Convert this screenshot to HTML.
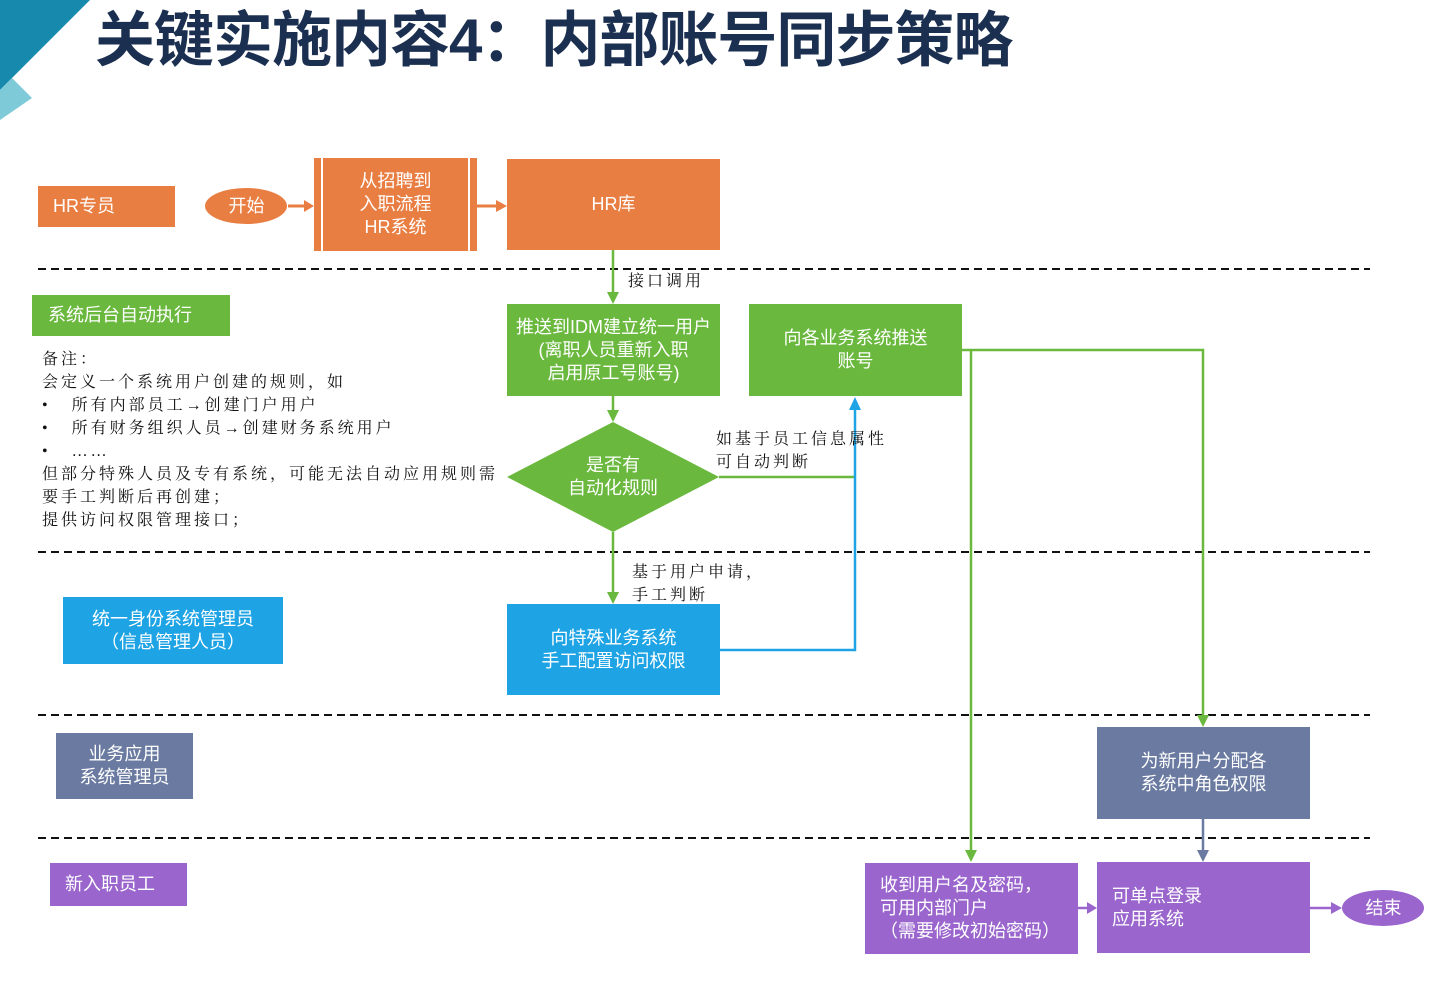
<!DOCTYPE html><html><head><meta charset="utf-8"><style>
body{margin:0;width:1440px;height:981px;background:#fff;position:relative;overflow:hidden;font-family:"Liberation Sans","Noto Sans CJK SC",sans-serif}
.b{position:absolute;color:#fff;display:flex;align-items:center;justify-content:center;text-align:center;font-size:18px;line-height:23px;box-sizing:border-box}
.o{background:#e97e42}.g{background:#6ab93e}.bl{background:#1ea3e4}.gr{background:#6a7aa0}.p{background:#9a65cd}
.t{position:absolute;font-family:"Liberation Serif","Noto Serif CJK SC",serif;font-size:16px;color:#111;line-height:23px;white-space:nowrap;letter-spacing:3px}
</style></head><body>
<svg width="1440" height="981" style="position:absolute;left:0;top:0">
<polygon points="0,0 90,0 0,90" fill="#1789ad"/>
<polygon points="0,90 12,78 32,98 0,120" fill="#7ecad8"/>
<g stroke="#111" stroke-width="2" stroke-dasharray="8,5">
<line x1="38" y1="269" x2="1370" y2="269"/><line x1="38" y1="552" x2="1370" y2="552"/>
<line x1="38" y1="715" x2="1370" y2="715"/><line x1="38" y1="838" x2="1370" y2="838"/></g>
<g stroke="#6ab93e" stroke-width="2.5" fill="none">
<line x1="613" y1="250" x2="613" y2="294"/><line x1="613" y1="396" x2="613" y2="412"/>
<line x1="613" y1="532" x2="613" y2="594"/><polyline points="719,477 855,477"/>
<polyline points="962,350 1203,350 1203,717"/><polyline points="971,350 971,852"/></g>
<g fill="#6ab93e"><polygon points="607,292 619,292 613,304"/><polygon points="607,410 619,410 613,422"/><polygon points="607,592 619,592 613,604"/><polygon points="1197,715 1209,715 1203,727"/><polygon points="965,850 977,850 971,862"/></g>
<polyline points="720,650 855,650 855,408" stroke="#1ea3e4" stroke-width="2.5" fill="none"/>
<polygon points="849,410 861,410 855,397" fill="#1ea3e4"/>
<polygon points="507,477 613,422 719,477 613,532" fill="#6ab93e"/>
<ellipse cx="246" cy="206" rx="41" ry="18" fill="#e97e42"/>
<ellipse cx="1383" cy="908" rx="41" ry="18" fill="#9a65cd"/>
<g stroke="#e97e42" stroke-width="3"><line x1="288" y1="206" x2="306" y2="206"/><line x1="477" y1="206" x2="498" y2="206"/></g>
<g fill="#e97e42"><polygon points="304,200 314,206 304,212"/><polygon points="496,200 507,206 496,212"/></g>
<line x1="1203" y1="819" x2="1203" y2="852" stroke="#6a7aa0" stroke-width="2.5"/><polygon points="1197,850 1209,850 1203,862" fill="#6a7aa0"/>
<g stroke="#9a65cd" stroke-width="2.5"><line x1="1078" y1="908" x2="1089" y2="908"/><line x1="1310" y1="908" x2="1333" y2="908"/></g>
<g fill="#9a65cd"><polygon points="1087,902 1097,908 1087,914"/><polygon points="1331,902 1342,908 1331,914"/></g>
</svg>
<div style="position:absolute;left:95px;top:4px;font-size:60px;font-weight:bold;color:#1b2f50;letter-spacing:-1px;white-space:nowrap;line-height:74px">关键实施内容4：内部账号同步策略</div>
<div class="b o" style="left:38px;top:186px;width:137px;height:41px;justify-content:flex-start;padding-left:15px">HR专员</div>
<div class="b" style="left:205px;top:188px;width:83px;height:36px">开始</div>
<div class="b o" style="left:314px;top:158px;width:163px;height:93px;border-left:7px solid #e97e42;box-shadow:inset 2px 0 #fff,inset -2px 0 #fff;padding:0 6px;border-right:7px solid #e97e42">从招聘到<br>入职流程<br>HR系统</div>
<div class="b o" style="left:507px;top:159px;width:213px;height:91px">HR库</div>
<div class="b g" style="left:32px;top:295px;width:198px;height:41px;justify-content:flex-start;padding-left:16px">系统后台自动执行</div>
<div class="b g" style="left:507px;top:304px;width:213px;height:92px">推送到IDM建立统一用户<br>(离职人员重新入职<br>启用原工号账号)</div>
<div class="b g" style="left:749px;top:304px;width:213px;height:92px">向各业务系统推送<br>账号</div>
<div class="b" style="left:540px;top:454px;width:146px;height:46px">是否有<br>自动化规则</div>
<div class="b bl" style="left:63px;top:597px;width:220px;height:67px">统一身份系统管理员<br>（信息管理人员）</div>
<div class="b bl" style="left:507px;top:604px;width:213px;height:91px">向特殊业务系统<br>手工配置访问权限</div>
<div class="b gr" style="left:56px;top:733px;width:137px;height:66px">业务应用<br>系统管理员</div>
<div class="b gr" style="left:1097px;top:727px;width:213px;height:92px">为新用户分配各<br>系统中角色权限</div>
<div class="b p" style="left:50px;top:863px;width:137px;height:43px;justify-content:flex-start;padding-left:15px">新入职员工</div>
<div class="b p" style="left:865px;top:863px;width:213px;height:91px;justify-content:flex-start;text-align:left;padding-left:15px">收到用户名及密码，<br>可用内部门户<br>（需要修改初始密码）</div>
<div class="b p" style="left:1097px;top:862px;width:213px;height:91px;justify-content:flex-start;text-align:left;padding-left:15px">可单点登录<br>应用系统</div>
<div class="b" style="left:1342px;top:891px;width:83px;height:35px">结束</div>
<div class="t" style="left:628px;top:270px">接口调用</div>
<div class="t" style="left:716px;top:428px">如基于员工信息属性<br>可自动判断</div>
<div class="t" style="left:632px;top:561px">基于用户申请，<br>手工判断</div>
<div class="t" style="left:42px;top:348px">备注：<br>会定义一个系统用户创建的规则，如<br>•&nbsp;&nbsp;&nbsp;所有内部员工<b>→</b>创建门户用户<br>•&nbsp;&nbsp;&nbsp;所有财务组织人员<b>→</b>创建财务系统用户<br>•&nbsp;&nbsp;&nbsp;……<br>但部分特殊人员及专有系统，可能无法自动应用规则需<br>要手工判断后再创建；<br>提供访问权限管理接口；</div>
</body></html>
